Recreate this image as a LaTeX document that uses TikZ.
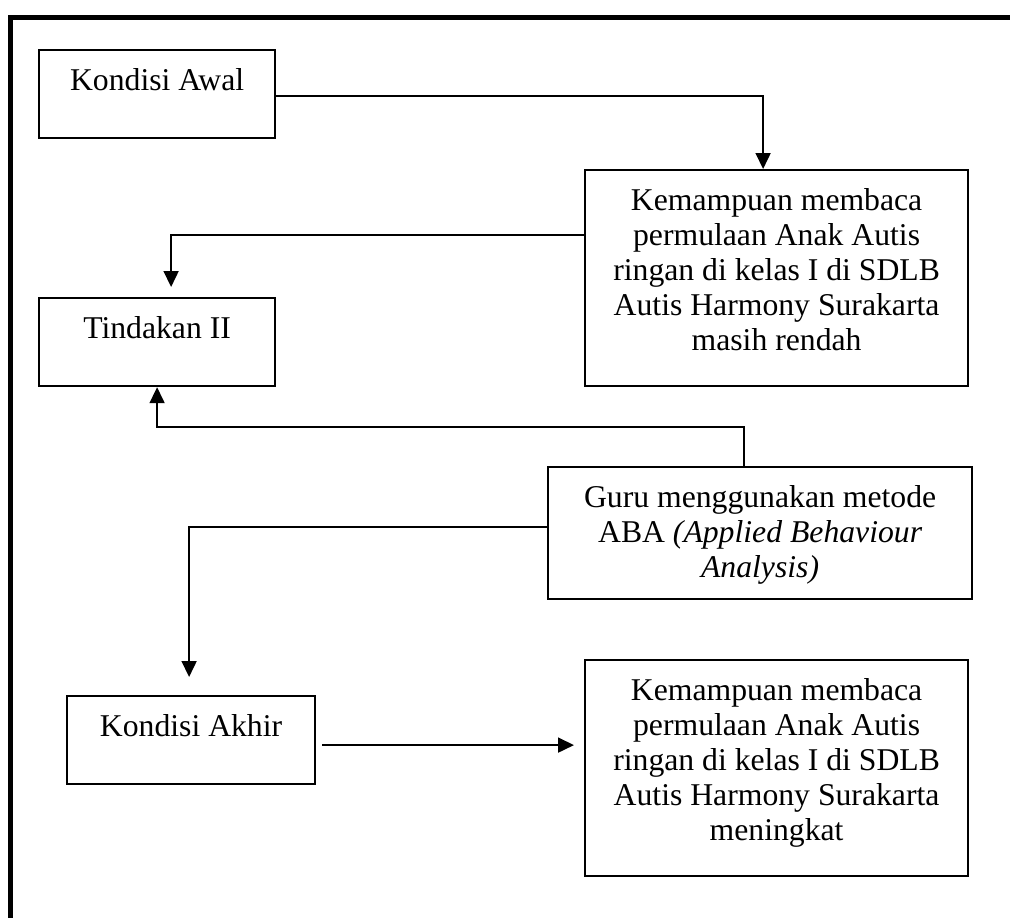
\documentclass[tikz,border=0pt]{standalone}
\usepackage{fontspec}
\setmainfont{Liberation Serif}
\usetikzlibrary{arrows.meta,calc}
\newcommand{\boxtext}[3]{\parbox[t][#2pt][t]{#1pt}{\centering\rule{0pt}{40pt}#3}}
\begin{document}
\begin{tikzpicture}[x=1pt,y=-1pt,
  box/.style={draw, line width=2.2pt, inner sep=0pt, anchor=north west,
    font=\fontsize{31.7}{35}\selectfont},
  arr/.style={line width=1.7pt, -{Triangle[length=16pt,width=15pt]}}]
\useasboundingbox (0,0) rectangle (1010,918);
\fill[white] (0,0) rectangle (1010,918);
% outer frame (only top and left visible)
\draw[line width=5pt] (10.5,940) -- (10.5,17.5) -- (1030,17.5);
% boxes
\node[box] (awal) at (38,49) {\boxtext{236}{88}{Kondisi Awal}};
\node[box] (kem1) at (584,169) {\boxtext{383}{216}{Kemampuan membaca\\permulaan Anak Autis\\ringan di kelas I di SDLB\\Autis Harmony Surakarta\\masih rendah}};
\node[box] (tind) at (38,297) {\boxtext{236}{88}{Tindakan II}};
\node[box] (guru) at (547,466) {\boxtext{424}{132}{Guru menggunakan metode\\ABA \textit{(Applied Behaviour\\Analysis)}}};
\node[box] (akhir) at (66,695) {\boxtext{248}{88}{Kondisi Akhir}};
\node[box] (kem2) at (584,659) {\boxtext{383}{216}{Kemampuan membaca\\permulaan Anak Autis\\ringan di kelas I di SDLB\\Autis Harmony Surakarta\\meningkat}};
% connectors
\draw[arr] ($(awal.east)+(0,2)$) -| ($(kem1.north)+(-13.5,0)$);
\draw[arr] ($(kem1.west)+(0,-43)$) -| ($(tind.north)+(14,-10)$);
\draw[arr] ($(guru.north)+(-16,0)$) |- ($(tind.south)+(0,40)$) -- (tind.south);
\draw[arr] ($(guru.west)+(0,-6)$) -| ($(akhir.north)+(-2,-18)$);
\draw[arr] ($(akhir.east)+(6,5)$) -- ($(akhir.east -| kem2.west)+(-10,5)$);
\end{tikzpicture}
\end{document}
